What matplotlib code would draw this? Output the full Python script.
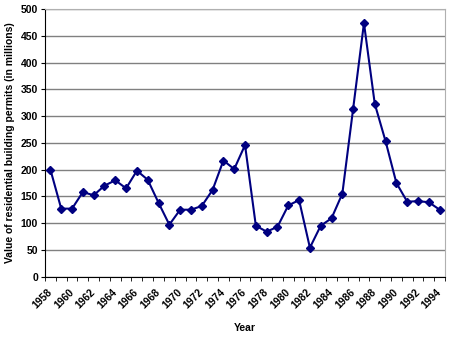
import matplotlib
matplotlib.use("Agg")
import matplotlib.pyplot as plt
import numpy as np

# data
years = list(range(1958, 1995))
permits = [200, 127, 127, 158, 152, 170, 180, 165, 198, 181,
           138, 97, 125, 125, 132, 162, 217, 201, 246, 95,
           84, 93, 133, 143, 54, 95, 109, 155, 314, 474,
           323, 253, 175, 140, 141, 139, 125]
y_ticks = list(range(0, 501, 50))

plt.rcParams['font.family'] = ['Liberation Sans', 'DejaVu Sans']
plt.rcParams['font.weight'] = 'bold'

fig = plt.figure(figsize=(4.5, 3.41), dpi=100)
ax = fig.add_axes([0.1, 0.189, 0.889, 0.784])

x = np.arange(len(years))
ax.plot(x, permits, color="#000080", linewidth=1.5, marker="D", markersize=4,
        markerfacecolor="#000080", markeredgecolor="#000080", zorder=3)

ax.set_xlim(-0.5, len(years) - 0.5)
ax.set_ylim(0, 500)
ax.set_yticks(y_ticks)
ax.yaxis.grid(True, color="#808080", linewidth=1.0)
ax.set_axisbelow(True)

# category axis: tick marks on boundaries, labels on every other category
ax.set_xticks(np.arange(-0.5, len(years), 1.0), minor=True)
ax.set_xticks(x[::2])
ax.set_xticklabels([str(y) for y in years[::2]], rotation=45, ha="right",
                   va="center", rotation_mode="anchor", fontsize=7.5)
ax.tick_params(axis="x", which="major", length=0, pad=10)
ax.tick_params(axis="x", which="minor", length=3, direction="out", color="black")
ax.tick_params(axis="y", length=3, direction="out", labelsize=7.5, pad=2)

for side in ("top", "right"):
    ax.spines[side].set_color("#b0b0b0")
for side in ("left", "bottom"):
    ax.spines[side].set_color("black")

ax.set_xlabel("Year", fontsize=7.5, fontweight="bold", labelpad=9)
ax.set_ylabel("Value of residential building permits (in millions)",
              fontsize=7.5, fontweight="bold", labelpad=4)

fig.savefig("out.png", dpi=100)
